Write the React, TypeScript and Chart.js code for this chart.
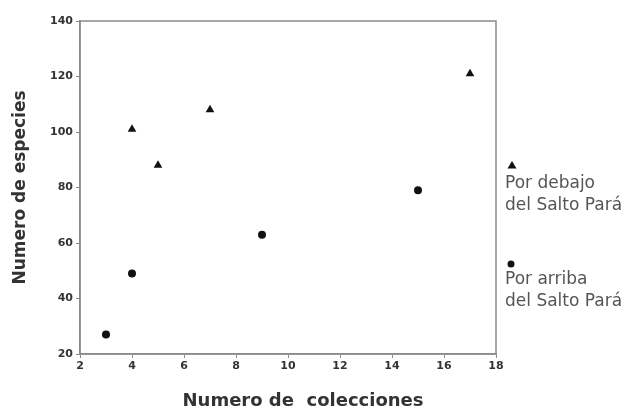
import React, { useEffect, useRef } from "react";
import { Chart, registerables } from "chart.js";

Chart.register(...registerables);

const belowX = [4, 5, 7, 17];
const belowY = [101, 88, 108, 121];
const aboveX = [3, 4, 9, 15];
const aboveY = [27, 49, 63, 79];
const belowLabel = ["Por debajo", "del Salto Pará"];
const aboveLabel = ["Por arriba", "del Salto Pará"];
const xTitle = "Numero de  colecciones";
const yTitle = "Numero de especies";

const FONT = "'DejaVu Sans', Verdana, sans-serif";

const framePlugin = {
  id: "frame",
  afterDatasetsDraw(chart: any) {
    const { ctx, chartArea } = chart;
    ctx.save();
    ctx.strokeStyle = "#8a8a8a";
    ctx.lineWidth = 1.5;
    ctx.strokeRect(chartArea.left, chartArea.top, chartArea.right - chartArea.left, chartArea.bottom - chartArea.top);
    ctx.restore();
  },
};

const textPlugin = {
  id: "sideLegend",
  afterDraw(chart: any) {
    const { ctx, chartArea } = chart;
    ctx.save();
    ctx.fillStyle = "#333";
    ctx.font = `bold 18px ${FONT}`;
    ctx.textAlign = "center";
    ctx.textBaseline = "middle";
    ctx.fillText(xTitle, (chartArea.left + chartArea.right) / 2 + 15, 401);
    ctx.fillStyle = "#111";
    const tx = 512, ty = 165;
    ctx.beginPath();
    ctx.moveTo(tx, ty - 4);
    ctx.lineTo(tx + 4.5, ty + 3.5);
    ctx.lineTo(tx - 4.5, ty + 3.5);
    ctx.closePath();
    ctx.fill();
    ctx.beginPath();
    ctx.arc(511, 264, 3.5, 0, Math.PI * 2);
    ctx.fill();
    ctx.fillStyle = "#555";
    ctx.font = `17px ${FONT}`;
    ctx.textAlign = "left";
    ctx.fillText(belowLabel[0], 505, 184);
    ctx.fillText(belowLabel[1], 505, 206);
    ctx.fillText(aboveLabel[0], 505, 280);
    ctx.fillText(aboveLabel[1], 505, 302);
    ctx.restore();
  },
};

export default function App() {
  const ref = useRef<HTMLCanvasElement>(null);
  useEffect(() => {
    if (!ref.current) return;
    const chart = new Chart(ref.current, {
      type: "scatter",
      data: {
        datasets: [
          {
            label: belowLabel.join(" "),
            data: belowX.map((x, i) => ({ x, y: belowY[i] })),
            pointStyle: "triangle",
            pointRadius: 5,
            backgroundColor: "#111",
            borderColor: "#111",
            borderWidth: 0,
          },
          {
            label: aboveLabel.join(" "),
            data: aboveX.map((x, i) => ({ x, y: aboveY[i] })),
            pointStyle: "circle",
            pointRadius: 4,
            backgroundColor: "#111",
            borderColor: "#111",
            borderWidth: 0,
          },
        ],
      },
      options: {
        animation: false,
        responsive: false,
        maintainAspectRatio: false,
        layout: { padding: { top: 21, right: 128, left: 0, bottom: 0 } },
        plugins: { legend: { display: false }, tooltip: { enabled: false } },
        scales: {
          x: {
            type: "linear",
            min: 2,
            max: 18,
            ticks: {
              stepSize: 2,
              color: "#333",
              font: { family: FONT, size: 11, weight: "bold" },
              padding: 2,
            },
            grid: { display: true, drawOnChartArea: false, tickLength: 4, color: "#8a8a8a" },
            border: { display: true, color: "#8a8a8a", width: 1.5 },
            title: { display: false, text: xTitle },
            afterFit(scale: any) {
              scale.height = 63;
            },
          },
          y: {
            type: "linear",
            min: 20,
            max: 140,
            ticks: {
              stepSize: 20,
              color: "#333",
              font: { family: FONT, size: 11, weight: "bold" },
              padding: 3,
            },
            grid: { display: true, drawOnChartArea: false, tickLength: 4, color: "#8a8a8a" },
            border: { display: true, color: "#8a8a8a", width: 1.5 },
            title: {
              display: true,
              text: yTitle,
              color: "#333",
              font: { family: FONT, size: 17, weight: "bold" },
              padding: { top: 10, bottom: 0 },
            },
            afterFit(scale: any) {
              scale.width = 80;
            },
          },
        },
      },
      plugins: [framePlugin, textPlugin],
    });
    return () => chart.destroy();
  }, []);
  return (
    <div style={{ position: "absolute", left: 0, top: 0, width: 624, height: 417, background: "#fff" }}>
      <canvas ref={ref} width={624} height={417} style={{ width: 624, height: 417, display: "block" }} />
    </div>
  );
}
